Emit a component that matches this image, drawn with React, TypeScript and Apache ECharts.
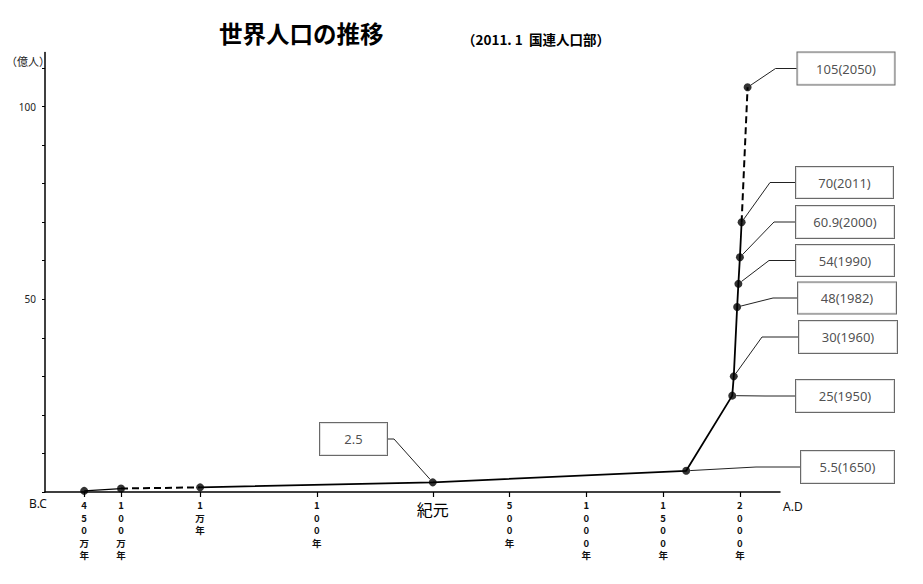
import React, { useEffect, useRef } from "react";
import * as echarts from "echarts";

// ---- texts ----
const TITLE = "世界人口の推移";
const SUBTITLE = "（2011.\u00a01\u00a0\u00a0国連人口部）";
const Y_UNIT = "（億人）";
const BC_LABEL = "B.C";
const AD_LABEL = "A.D";

// ---- x axis: timeline position (AD years; BC eras placed on the same scale) ----
const TICK_POS = [-2270, -2030, -1515, -755, 0, 500, 1000, 1500, 2000];
const TICK_LABELS = ["450万年", "100万年", "1万年", "100年", "紀元", "500年", "1000年", "1500年", "2000年"];
const ERA_NAME = "紀元";

// ---- y axis ----
const Y_TICKS = [0, 10, 20, 30, 40, 50, 60, 70, 80, 90, 100, 110];
const Y_LABELS = [50, 100];

// ---- data ----
const POINT_NAMES = ["450万年前", "100万年前", "1万年前", "紀元", "1650", "1950", "1960", "1982", "1990", "2000", "2011", "2050"];
const POINT_X = [-2270, -2030, -1515, 0, 1650, 1950, 1960, 1982, 1990, 2000, 2011, 2050];
const POPULATION = [0.3, 0.9, 1.2, 2.5, 5.5, 25, 30, 48, 54, 60.9, 70, 105];

// ---- line segments (style) ----
const SEGMENTS = [
  { from: 0, to: 1, dashed: false, width: 1.2 },
  { from: 1, to: 2, dashed: true, width: 2 },
  { from: 2, to: 10, dashed: false, width: 1.8 },
  { from: 10, to: 11, dashed: true, width: 2 },
];

// ---- annotation box layout (pixels, style only) ----
const BOXES: (null | { cx: number; cy: number; w: number; h: number; len: number })[] = [
  null,
  null,
  null,
  { cx: 353.5, cy: 439, w: 67, h: 32, len: 6 },
  { cx: 847.5, cy: 467, w: 93, h: 32, len: 44 },
  { cx: 845, cy: 396, w: 98, h: 32, len: 30 },
  { cx: 848, cy: 337, w: 98, h: 32, len: 36 },
  { cx: 847, cy: 298, w: 98, h: 31, len: 24 },
  { cx: 845, cy: 260.5, w: 98, h: 31, len: 26 },
  { cx: 845, cy: 222, w: 98, h: 32, len: 21 },
  { cx: 844.5, cy: 182.5, w: 97, h: 31, len: 25 },
  { cx: 846, cy: 68.5, w: 97, h: 32, len: 21 },
];

const JP = '"Noto Sans CJK JP", "Noto Sans", sans-serif';
const SANS = '"Noto Sans", "Liberation Sans", sans-serif';

function labelText(i: number): string {
  if (POINT_NAMES[i] === ERA_NAME) return String(POPULATION[i]);
  return `${POPULATION[i]}(${POINT_NAMES[i]})`;
}

export default function App() {
  const ref = useRef<HTMLDivElement>(null);

  useEffect(() => {
    if (!ref.current) return;
    const chart = echarts.init(ref.current, undefined, { renderer: "svg" });

    const lineSeries = SEGMENTS.map((s) => ({
      type: "line",
      data: POINT_X.slice(s.from, s.to + 1).map((x, k) => [x, POPULATION[s.from + k]]),
      symbol: "none",
      lineStyle: { color: "#000", width: s.width, type: s.dashed ? [7, 4] : "solid" },
      z: 2,
      silent: true,
    }));

    const scatterData = POINT_X.map((x, i) => {
      const b = BOXES[i];
      if (!b) return { value: [x, POPULATION[i]], label: { show: false } };
      return {
        value: [x, POPULATION[i]],
        label: {
          show: true,
          formatter: labelText(i),
          width: b.w,
          height: b.h,
          lineHeight: b.h,
          align: "center",
          verticalAlign: "middle",
        },
        labelLine: { show: true, length2: b.len },
      };
    });

    chart.setOption({
      animation: false,
      backgroundColor: "#fff",
      grid: { left: 45, right: 143, top: 52.6, bottom: 92, containLabel: false, outerBoundsMode: "none" },
      xAxis: {
        type: "value",
        min: -2525,
        max: 2261,
        splitLine: { show: false },
        axisLine: { show: true, onZero: false, lineStyle: { color: "#000", width: 1.5 } },
        axisTick: { show: true, customValues: TICK_POS, length: 5, inside: false, lineStyle: { color: "#000", width: 1.2 } },
        axisLabel: {
          show: true,
          customValues: TICK_POS,
          margin: 7,
          color: "#111",
          fontSize: 9.5,
          fontWeight: "bold",
          fontFamily: JP,
          lineHeight: 12.5,
          formatter: (v: number) => {
            const idx = TICK_POS.indexOf(v);
            if (idx < 0) return "";
            const t = TICK_LABELS[idx];
            if (t === ERA_NAME) return `{k|${t}}`;
            return t.split("").join("\n");
          },
          rich: {
            k: { fontSize: 16, lineHeight: 20, fontWeight: "normal", fontFamily: JP, color: "#000" },
          },
        },
      },
      yAxis: {
        type: "value",
        min: 0,
        max: 114,
        splitLine: { show: false },
        axisLine: { show: true, onZero: false, lineStyle: { color: "#000", width: 1.5 } },
        axisTick: { show: true, customValues: Y_TICKS, length: 3, inside: false, lineStyle: { color: "#000" } },
        axisLabel: {
          show: true,
          customValues: Y_LABELS,
          margin: 9,
          color: "#222",
          fontSize: 10,
          fontFamily: SANS,
        },
      },
      graphic: [
        {
          type: "text",
          x: 219,
          y: 33,
          style: { text: TITLE, fontSize: 23.5, fontWeight: "bold", fontFamily: JP, fill: "#000", verticalAlign: "middle" },
        },
        {
          type: "text",
          x: 462,
          y: 39,
          style: { text: SUBTITLE, fontSize: 13.5, fontWeight: "bold", fontFamily: JP, fill: "#000", verticalAlign: "middle" },
        },
        {
          type: "text",
          x: 6,
          y: 61,
          style: { text: Y_UNIT, fontSize: 11, fontFamily: JP, fill: "#222", verticalAlign: "middle" },
        },
        {
          type: "text",
          x: 29,
          y: 503,
          style: { text: BC_LABEL, fontSize: 12, fontFamily: SANS, fill: "#111", verticalAlign: "middle" },
        },
        {
          type: "text",
          x: 783,
          y: 506,
          style: { text: AD_LABEL, fontSize: 12, fontFamily: SANS, fill: "#111", verticalAlign: "middle" },
        },
      ],
      series: [
        ...lineSeries,
        {
          type: "scatter",
          data: scatterData,
          symbol: "circle",
          symbolSize: 8,
          itemStyle: { color: "#000" },
          z: 5,
          label: {
            show: false,
            color: "#222",
            fontSize: 13,
            fontFamily: SANS,
            backgroundColor: "#fff",
            borderColor: "#444",
            borderWidth: 1,
            padding: 0,
          },
          labelLine: { show: true, lineStyle: { color: "#222", width: 1 } },
          labelLayout: (params: any) => {
            const b = BOXES[params.dataIndex];
            if (!b) return {};
            return { x: b.cx, y: b.cy, align: "center", verticalAlign: "middle" };
          },
          emphasis: { disabled: true },
        },
      ],
    });

    return () => chart.dispose();
  }, []);

  return (
    <div
      ref={ref}
      style={{ position: "fixed", left: 0, top: 0, width: 923, height: 584, background: "#fff" }}
    />
  );
}
